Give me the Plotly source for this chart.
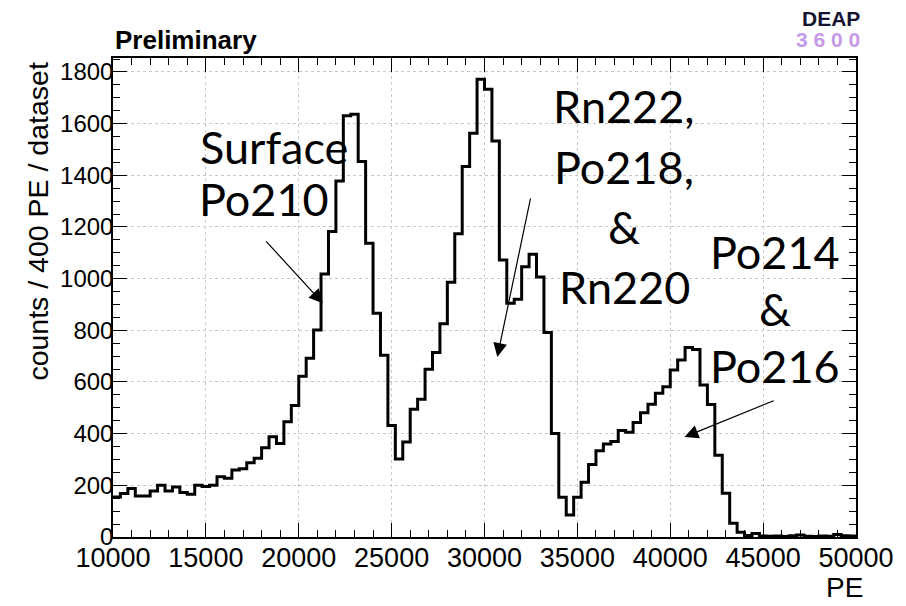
import plotly.graph_objects as go

# ---- data: counts per 400 PE bin, 10000 .. 50000 PE ----
bin_low = 10000
bin_width = 400
counts = [
    155, 168, 188, 159, 159, 178, 200, 178, 194, 172,
    165, 200, 195, 200, 233, 227, 259, 264, 287, 305,
    345, 388, 362, 446, 509, 622, 692, 801, 1018, 1182,
    1378, 1630, 1636, 1453, 1137, 866, 703, 432, 302, 368,
    494, 533, 649, 714, 825, 986, 1174, 1434, 1563, 1772,
    1733, 1533, 1072, 905, 920, 1046, 1094, 1006, 792, 401,
    154, 85, 154, 212, 281, 334, 360, 370, 412, 405,
    443, 481, 514, 556, 582, 646, 685, 733, 726, 588,
    513, 316, 169, 53, 18, 6, 14, 4, 3, 4,
    2, 5, 8, 3, 2, 4, 3, 10, 5, 4,
]
x_ticks = [10000, 15000, 20000, 25000, 30000, 35000, 40000, 45000, 50000]
y_ticks = [0, 200, 400, 600, 800, 1000, 1200, 1400, 1600, 1800]

edges = [bin_low + bin_width * i for i in range(len(counts) + 1)]
step_y = counts + [counts[-1]]

fig = go.Figure()
fig.add_trace(go.Scatter(
    x=edges, y=step_y, mode="lines", line_shape="hv",
    line=dict(color="black", width=3), hoverinfo="skip", showlegend=False,
))

W, H = 906, 606
L, R, T, B = 113, 867, 58, 537


def px(xp):
    return (xp - L) / (R - L)


def py(yp):
    return (B - yp) / (B - T)


ann_font = dict(family="Lato, Open Sans, sans-serif", size=45, color="black")
labels = [
    ("Surface", 276, 147), ("Po210", 266, 199),
    ("Rn222,", 632, 106), ("Po218,", 632, 167), ("&", 632, 227), ("Rn220", 632, 287),
    ("Po214", 785, 252), ("&", 785, 309), ("Po216", 785, 366),
]
annotations = []
for t, xx, yy in labels:
    annotations.append(dict(text=t, x=px(xx), y=py(yy), xref="paper", yref="paper",
                            showarrow=False, xanchor="center", yanchor="middle",
                            font=ann_font))

arrows = [
    # (head PE, head count, tail PE, tail count)
    (21300, 905, 18170, 1150),
    (30690, 697, 32493, 1316),
    (40770, 387, 45650, 530),
]
for hx, hy, tx, ty in arrows:
    annotations.append(dict(x=hx, y=hy, ax=tx, ay=ty, xref="x", yref="y",
                            axref="x", ayref="y", text="", showarrow=True,
                            arrowhead=2, arrowsize=2.3, arrowwidth=1.2,
                            arrowcolor="black"))

# title, logo, axis titles
annotations += [
    dict(text="<b>Preliminary</b>", x=px(113), y=py(40), xref="paper", yref="paper",
         showarrow=False, xanchor="left", yanchor="middle",
         font=dict(family="Liberation Sans, Arial", size=26, color="black")),
    dict(text="<b>DEAP</b>", x=px(873), y=py(19), xref="paper", yref="paper",
         showarrow=False, xanchor="right", yanchor="middle",
         font=dict(family="Liberation Sans Narrow, Liberation Sans", size=21, color="#141432")),
    dict(text="<b>3 6 0 0</b>", x=px(873), y=py(39), xref="paper", yref="paper",
         showarrow=False, xanchor="right", yanchor="middle",
         font=dict(family="Liberation Sans Narrow, Liberation Sans", size=21, color="#c79ae8")),
    dict(text="PE", x=px(876), y=py(587), xref="paper", yref="paper",
         showarrow=False, xanchor="right", yanchor="middle",
         font=dict(family="Liberation Sans, Arial", size=28, color="black")),
    dict(text="counts / 400 PE / dataset", x=px(36), y=py(60), xref="paper", yref="paper",
         showarrow=False, xanchor="center", yanchor="top", textangle=-90,
         font=dict(family="Liberation Sans, Arial", size=28.5, color="black")),
]

axis_common = dict(
    showline=True, linecolor="black", linewidth=1.5, mirror="ticks",
    ticks="inside", ticklen=14, tickwidth=1.2, tickcolor="black",
    showgrid=True, gridcolor="#c8c8c8", griddash="dot", gridwidth=1,
    zeroline=False,
)
fig.update_xaxes(
    range=[10000, 50000], tickvals=x_ticks, ticktext=[str(v) for v in x_ticks],
    tickfont=dict(family="Liberation Sans, Arial", size=27, color="black"),
    ticklabelstandoff=-4,
    minor=dict(dtick=1000, ticklen=7, tickcolor="black", tickwidth=1.2, showgrid=False, ticks="inside"),
    **axis_common,
)
fig.update_yaxes(
    range=[0, 1854], tickvals=y_ticks, ticktext=[str(v) for v in y_ticks],
    tickfont=dict(family="Liberation Sans, Arial", size=24, color="black"),
    ticklabelstandoff=-7,
    minor=dict(dtick=50, ticklen=7, tickcolor="black", tickwidth=1.2, showgrid=False, ticks="inside"),
    **axis_common,
)
fig.update_layout(
    width=W, height=H, margin=dict(l=L, r=W - R, t=T, b=H - B),
    paper_bgcolor="white", plot_bgcolor="white", showlegend=False,
    annotations=annotations,
)
fig.write_html("out.html")
